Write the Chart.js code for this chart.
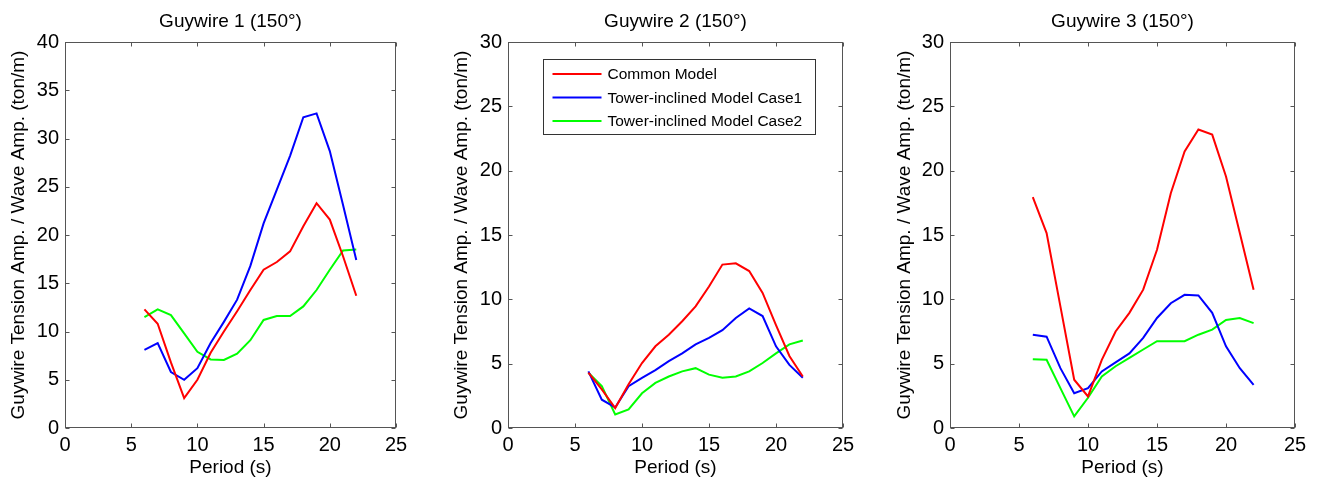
<!DOCTYPE html>
<html><head><meta charset="utf-8">
<script src="https://cdn.jsdelivr.net/npm/chart.js@4.4.1/dist/chart.umd.min.js"></script>
<style>
html,body{margin:0;padding:0;background:#fff;}
#wrap{position:relative;width:1317px;height:480px;overflow:hidden;background:#fff;}
canvas{position:absolute;top:0;}
</style></head><body>
<div id="wrap">
<canvas id="c1" width="440" height="480" style="left:0px"></canvas>
<canvas id="c2" width="440" height="480" style="left:440px"></canvas>
<canvas id="c3" width="437" height="480" style="left:880px"></canvas>
</div>
<script>
// ---- data ----
const periods = [6,7,8,9,10,11,12,13,14,15,16,17,18,19,20,21,22];
const seriesLabels = ['Common Model','Tower-inclined Model Case1','Tower-inclined Model Case2'];
const seriesColors = ['#ff0000','#0000ff','#00ff00'];
const chartTitles = ['Guywire 1 (150°)','Guywire 2 (150°)','Guywire 3 (150°)'];
const xAxisTitle = 'Period (s)';
const yAxisTitle = 'Guywire Tension Amp. / Wave Amp. (ton/m)';
const yMaxes = [40,30,30];

const g1Common = [12.3,10.8,6.8,3.1,5.0,7.8,10.0,12.1,14.3,16.4,17.2,18.3,20.9,23.3,21.6,17.8,13.7];
const g1Case1  = [8.1,8.8,5.8,5.0,6.2,8.8,11.0,13.3,16.8,21.2,24.7,28.2,32.2,32.6,28.7,23.1,17.4];
const g1Case2  = [11.5,12.3,11.7,9.8,7.9,7.1,7.05,7.7,9.1,11.2,11.6,11.6,12.6,14.3,16.4,18.4,18.5];

const g2Common = [4.3,3.0,1.55,3.4,5.05,6.35,7.25,8.3,9.45,11.0,12.7,12.8,12.2,10.5,8.0,5.6,4.0];
const g2Case1  = [4.4,2.2,1.6,3.25,3.9,4.5,5.2,5.8,6.5,7.0,7.6,8.55,9.3,8.7,6.35,4.9,3.9];
const g2Case2  = [4.3,3.25,1.05,1.45,2.7,3.5,4.0,4.4,4.65,4.15,3.9,4.0,4.4,5.05,5.8,6.5,6.8];

const g3Common = [17.95,15.15,9.45,3.75,2.45,5.3,7.5,8.95,10.75,13.85,18.25,21.5,23.2,22.8,19.55,15.15,10.75];
const g3Case1  = [7.25,7.1,4.65,2.7,3.1,4.4,5.1,5.8,7.0,8.55,9.7,10.35,10.3,8.95,6.35,4.65,3.35];
const g3Case2  = [5.35,5.3,3.1,0.9,2.35,4.0,4.8,5.45,6.1,6.75,6.75,6.75,7.25,7.65,8.4,8.55,8.15];

const groups = [[g1Common,g1Case1,g1Case2],[g2Common,g2Case1,g2Case2],[g3Common,g3Case1,g3Case2]];

// ---- layout / style ----
const FONT = '"Liberation Sans", Arial, Helvetica, sans-serif';
const AXIS_COLOR = '#555555';
const layouts = [
  {id:'c1', yWidth:65, padRight:44, yTitlePad:7},
  {id:'c2', yWidth:68, padRight:37, yTitlePad:10.5},
  {id:'c3', yWidth:70, padRight:22, yTitlePad:13}
];

const boxTicks = {
  id:'boxTicks',
  afterDraw(chart){
    const {ctx, chartArea:a, scales} = chart;
    ctx.save();
    ctx.strokeStyle = AXIS_COLOR;
    ctx.lineWidth = 1;
    const L = Math.round(a.left)+0.5, R = Math.round(a.right)-0.5, T = Math.round(a.top)+0.5, B = Math.round(a.bottom)-0.5;
    ctx.strokeRect(L, T, R-L, B-T);
    const tl = 4;
    ctx.beginPath();
    scales.x.ticks.forEach(t=>{
      const px = Math.round(scales.x.getPixelForValue(t.value))+0.5;
      ctx.moveTo(px,B); ctx.lineTo(px,B-tl);
      ctx.moveTo(px,T); ctx.lineTo(px,T+tl);
    });
    scales.y.ticks.forEach(t=>{
      const py = Math.round(scales.y.getPixelForValue(t.value))+0.5;
      ctx.moveTo(L,py); ctx.lineTo(L+tl,py);
      ctx.moveTo(R,py); ctx.lineTo(R-tl,py);
    });
    ctx.stroke();
    ctx.restore();
  }
};

const boxLegend = {
  id:'boxLegend',
  afterDraw(chart, args, opts){
    if(!opts || !opts.show) return;
    const {ctx, chartArea:a} = chart;
    const x0 = a.left + 35.5, y0 = a.top + 17.5, w = 272, h = 75;
    ctx.save();
    ctx.fillStyle = '#fff';
    ctx.fillRect(x0, y0, w, h);
    ctx.strokeStyle = '#333';
    ctx.lineWidth = 1;
    ctx.strokeRect(x0, y0, w, h);
    ctx.font = '15.5px ' + FONT;
    ctx.textBaseline = 'middle';
    ctx.textAlign = 'left';
    chart.data.datasets.forEach((ds,i)=>{
      const cy = y0 + 14.5 + i*23.5;
      ctx.strokeStyle = ds.borderColor;
      ctx.lineWidth = 2;
      ctx.beginPath();
      ctx.moveTo(x0+9, cy); ctx.lineTo(x0+58, cy);
      ctx.stroke();
      ctx.fillStyle = '#000';
      ctx.fillText(ds.label, x0+64, cy+1);
    });
    ctx.restore();
  }
};

groups.forEach((g, k)=>{
  const lay = layouts[k];
  const datasets = g.map((vals,i)=>({
    label: seriesLabels[i],
    data: periods.map((p,j)=>({x:p, y:vals[j]})),
    borderColor: seriesColors[i],
    backgroundColor: seriesColors[i],
    borderWidth: 2,
    pointRadius: 0,
    tension: 0,
    fill: false
  }));
  new Chart(document.getElementById(lay.id), {
    type:'line',
    data:{datasets},
    plugins:[boxTicks, boxLegend],
    options:{
      responsive:false,
      animation:false,
      events:[],
      layout:{padding:{left:0,right:lay.padRight,top:0,bottom:0}},
      plugins:{
        legend:{display:false},
        tooltip:{enabled:false},
        boxLegend:{show:k===1},
        title:{
          display:true,
          text:chartTitles[k],
          fullSize:false,
          color:'#000',
          font:{family:FONT,size:19,weight:'normal',lineHeight:1.2},
          padding:{top:10.5,bottom:8.7}
        }
      },
      scales:{
        x:{
          type:'linear', min:0, max:25,
          ticks:{stepSize:5, color:'#000', font:{family:FONT,size:20}, padding:5, maxRotation:0},
          grid:{display:false, drawTicks:false},
          border:{display:false},
          title:{display:true, text:xAxisTitle, color:'#000', font:{family:FONT,size:19,lineHeight:1.2}, padding:{top:0,bottom:1}},
          afterFit(s){ s.height = 52; }
        },
        y:{
          type:'linear', min:0, max:yMaxes[k],
          ticks:{stepSize:5, color:'#000', font:{family:FONT,size:20}, padding:6},
          grid:{display:false, drawTicks:false},
          border:{display:false},
          title:{display:true, text:yAxisTitle, color:'#000', font:{family:FONT,size:19,lineHeight:1.2}, padding:{top:lay.yTitlePad,bottom:0}},
          afterFit(s){ s.width = lay.yWidth; }
        }
      }
    }
  });
});
</script>
</body></html>
